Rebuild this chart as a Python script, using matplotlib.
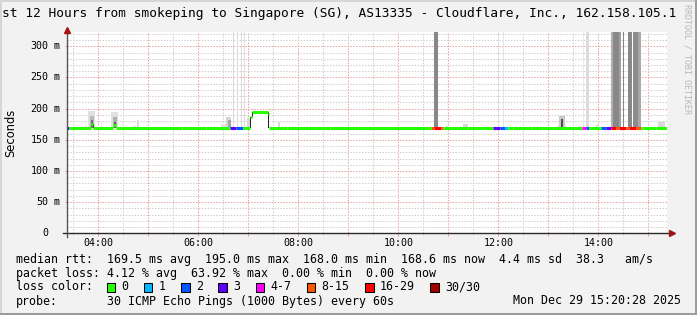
import numpy as np
import matplotlib
matplotlib.use("Agg")
import matplotlib.pyplot as plt
from matplotlib.patches import Rectangle
from matplotlib.lines import Line2D
from matplotlib.ticker import MultipleLocator

# ---------------- data ----------------
title = "st 12 Hours from smokeping to Singapore (SG), AS13335 - Cloudflare, Inc., 162.158.105.1"
y_label = "Seconds"
watermark = "RRDTOOL / TOBI OETIKER"

x_tick_hours = [4, 6, 8, 10, 12, 14]
x_tick_labels = ["04:00", "06:00", "08:00", "10:00", "12:00", "14:00"]
y_tick_values = [0, 50, 100, 150, 200, 250, 300]
y_tick_numbers = ["0", "50", "100", "150", "200", "250", "300"]
y_tick_units = ["", "m", "m", "m", "m", "m", "m"]
t_start, t_end = 3.368, 15.368      # hours of day
y_max = 322.5                        # ms

# median rtt segments (hours), value in ms, loss class index
seg_edges = [3.368, 3.41, 3.86, 3.90, 4.30, 4.36, 5.67, 6.15, 6.63, 6.75, 6.89,
             7.04, 7.08, 7.39, 7.41, 7.77, 8.63, 10.65, 10.71, 10.85, 10.90,
             11.39, 11.90, 12.03, 12.13, 12.19, 12.29, 12.65, 13.67, 13.75,
             13.81, 14.05, 14.15, 14.25, 14.35, 14.42, 14.55, 14.62, 14.75,
             14.85, 14.90, 15.15, 15.368]
seg_median = [169, 169, 175, 169, 173, 169, 168.2, 169, 169, 169, 169,
              187, 195, 191, 169, 168.2, 169, 169, 169, 169, 169,
              168.2, 169, 169, 169, 169, 168.2, 169, 169, 169,
              169, 169, 169, 169, 169, 169, 169, 169, 169,
              169, 168.2, 169]
seg_loss = [3, 0, 0, 0, 0, 0, 0, 0, 3, 2, 0,
            0, 0, 0, 0, 0, 0, 5, 6, 5, 0,
            0, 3, 2, 1, 0, 0, 0, 4, 2,
            0, 2, 3, 6, 5, 6, 5, 6, 5,
            0, 0, 0]

# smoke (ping spread) blocks
smoke_t0 = [3.72, 3.80, 3.83, 3.86, 3.90, 4.05, 4.26, 4.29, 4.31, 4.70, 4.78,
            6.45, 6.55, 6.60, 6.69, 6.78, 6.845, 6.91, 6.98, 7.03, 7.025, 7.07,
            7.39, 7.60, 9.76, 10.71, 10.95, 11.29, 11.99, 12.09, 13.19, 13.22,
            13.25, 13.69, 13.75, 13.95, 14.25, 14.30, 14.41, 14.49, 14.59,
            14.69, 14.80, 15.19]
smoke_t1 = [3.78, 3.93, 3.91, 3.90, 3.92, 4.08, 4.39, 4.37, 4.35, 4.76, 4.81,
            6.65, 6.65, 6.65, 6.71, 6.80, 6.865, 6.93, 7.03, 7.41, 7.045, 7.09,
            7.41, 7.63, 9.79, 10.80, 10.99, 11.39, 12.02, 12.11, 13.36, 13.33,
            13.29, 13.71, 13.81, 13.99, 14.30, 14.41, 14.45, 14.51, 14.67,
            14.80, 14.85, 15.34]
smoke_lo = [169, 169, 169, 169, 169, 169, 169, 169, 169, 169, 169,
            169, 169, 169, 169, 169, 169, 169, 169, 169, 169, 187,
            169, 169, 169, 169, 169, 169, 169, 169, 169, 169,
            169, 169, 169, 169, 169, 169, 169, 169, 169,
            169, 169, 169]
smoke_hi = [172, 196, 189, 181, 175, 175, 194, 186, 179, 172, 182,
            176, 187, 181, 400, 400, 400, 400, 185, 195, 187, 195,
            195, 178, 171, 400, 172, 175, 400, 400, 174, 188,
            183, 400, 400, 174, 400, 400, 400, 400, 400,
            400, 400, 179]
smoke_shade = ["#e4e4e4", "#e0e0e0", "#b8b8b8", "#707070", "#303030", "#e4e4e4",
               "#e0e0e0", "#b0b0b0", "#606060", "#e4e4e4", "#d8d8d8",
               "#e4e4e4", "#d4d4d4", "#a8a8a8", "#dcdcdc", "#dcdcdc", "#dcdcdc",
               "#dcdcdc", "#d8d8d8", "#ffffff", "#202020", "#202020",
               "#202020", "#d8d8d8", "#e4e4e4", "#888888", "#e0e0e0", "#d8d8d8",
               "#e0e0e0", "#e4e4e4", "#e4e4e4", "#c8c8c8",
               "#505050", "#e8e8e8", "#dcdcdc", "#e0e0e0", "#b0b0b0", "#888888",
               "#a0a0a0", "#888888", "#888888",
               "#8c8c8c", "#a8a8a8", "#d8d8d8"]

loss_labels = ["0", "1", "2", "3", "4-7", "8-15", "16-29", "30/30"]
loss_colors = ["#26ff00", "#00b8ff", "#0059ff", "#5e00ff", "#ff00ff",
               "#ff5500", "#ff0000", "#a10000"]

legend_row1 = "median rtt:  169.5 ms avg  195.0 ms max  168.0 ms min  168.6 ms now  4.4 ms sd  38.3   am/s"
legend_row2 = "packet loss: 4.12 % avg  63.92 % max  0.00 % min  0.00 % now"
loss_row_label = "loss color:"
probe_label = "probe:"
probe_text = "30 ICMP Echo Pings (1000 Bytes) every 60s"
timestamp = "Mon Dec 29 15:20:28 2025"

# ---------------- drawing ----------------
W, H, DPI = 697, 315, 100
MONO = "DejaVu Sans Mono"
plt.rcParams["font.family"] = [MONO]

fig = plt.figure(figsize=(W / DPI, H / DPI), dpi=DPI, facecolor="#f2f2f2")


def fx(x):
    return x / W


def fy(y):
    return 1 - y / H


# frame shading
fig.add_artist(Rectangle((0, fy(2)), 1, 2 / H, transform=fig.transFigure, color="#d6d6d6", lw=0))
fig.add_artist(Rectangle((0, 0), 2 / W, 1, transform=fig.transFigure, color="#d6d6d6", lw=0))
fig.add_artist(Rectangle((0, 0), 1, 2 / H, transform=fig.transFigure, color="#9c9c9c", lw=0))
fig.add_artist(Rectangle((fx(695), 0), 2 / W, 1, transform=fig.transFigure, color="#9c9c9c", lw=0))

ax_l, ax_r, ax_t, ax_b = 66.7, 666.7, 32.3, 233.3
ax = fig.add_axes([fx(ax_l), fy(ax_b), (ax_r - ax_l) / W, (ax_b - ax_t) / H])
ax.set_facecolor("white")
ax.set_xlim(t_start, t_end)
ax.set_ylim(0, y_max)
for s in ax.spines.values():
    s.set_visible(False)
ax.set_axisbelow(True)

# ticks / grid
hours = np.arange(np.ceil(t_start), t_end, 1.0)
ax.set_xticks(hours)
ax.set_xticklabels([x_tick_labels[x_tick_hours.index(int(h))] if int(h) in x_tick_hours else ""
                    for h in hours])
ax.xaxis.set_minor_locator(MultipleLocator(0.5))
ax.set_yticks(y_tick_values)
ax.yaxis.set_minor_locator(MultipleLocator(10))

major_c, minor_c = "#eba3a3", "#d0d0d0"
ax.grid(which="major", color=major_c, linestyle=(0, (1.4, 1.4)), linewidth=0.75)
ax.grid(which="minor", color=minor_c, linestyle=(0, (1.4, 1.4)), linewidth=0.75)
ax.tick_params(axis="x", which="major", length=2.3, width=0.75, color=major_c,
               labelsize=7.2, pad=1.2, labelcolor="black")
ax.tick_params(axis="x", which="minor", length=1.6, width=0.75, color=minor_c)
ax.tick_params(axis="y", which="major", length=1.6, width=0.75, color=major_c, labelleft=False)
ax.tick_params(axis="y", which="minor", length=0)

ytr = ax.get_yaxis_transform()
for v, num, unit in zip(y_tick_values, y_tick_numbers, y_tick_units):
    ax.text((48.3 - ax_l) / 600, v, num, transform=ytr, ha="right", va="center", fontsize=7.2)
    if unit:
        ax.text((54.0 - ax_l) / 600, v, unit, transform=ytr, ha="left", va="center", fontsize=7.2)

# smoke
ax.bar(smoke_t0, np.array(smoke_hi) - np.array(smoke_lo),
       width=np.array(smoke_t1) - np.array(smoke_t0), bottom=smoke_lo,
       align="edge", color=smoke_shade, linewidth=0, zorder=1)

# median line coloured by loss
ax.hlines(seg_median, seg_edges[:-1], seg_edges[1:],
          colors=[loss_colors[i] for i in seg_loss], linewidth=2.2,
          capstyle="butt", zorder=3)

# axes lines with arrows
axis_c = "#2a2a2a"
ax.add_line(Line2D([-4 / 600, 1 + 4 / 600], [0, 0], transform=ax.transAxes,
                   color=axis_c, lw=1.0, clip_on=False, zorder=5))
ax.add_line(Line2D([0, 0], [-3.5 / 201, 1 + 1.5 / 201], transform=ax.transAxes,
                   color="#555555", lw=1.0, clip_on=False, zorder=5))
ax.plot([1 + 5.5 / 600], [0], marker=">", ms=4.2, color="#a01515", mec="#a01515",
        transform=ax.transAxes, clip_on=False, zorder=6)
ax.plot([0], [1 + 2.5 / 201], marker="^", ms=4.2, color="#a01515", mec="#a01515",
        transform=ax.transAxes, clip_on=False, zorder=6)

# titles and labels
fig.text(fx(2), fy(13), title, ha="left", va="center", fontsize=9.3, color="black")
fig.text(fx(10.5), fy(133), y_label, rotation=90, ha="center", va="center",
         fontsize=8.3, family="DejaVu Sans")
fig.text(fx(687.5), fy(4), watermark, rotation=270, ha="center", va="top",
         fontsize=6.0, color="#b8b8b8")

# legend
CW = 7.02
lx = 16
fs = 8.4
fig.text(fx(lx), fy(259), legend_row1, ha="left", va="center", fontsize=fs)
fig.text(fx(lx), fy(273), legend_row2, ha="left", va="center", fontsize=fs)
fig.text(fx(lx), fy(287), loss_row_label, ha="left", va="center", fontsize=fs)
sx = lx + 13 * CW - 0.5
for lab, col in zip(loss_labels, loss_colors):
    fig.add_artist(Rectangle((fx(sx), fy(291.5)), 8.5 / W, 9 / H, transform=fig.transFigure,
                             facecolor=col, edgecolor="black", lw=0.75))
    fig.text(fx(sx + 14.5), fy(287), lab, ha="left", va="center", fontsize=fs)
    sx += 30.2 + CW * len(lab)
fig.text(fx(lx), fy(301), probe_label, ha="left", va="center", fontsize=fs)
fig.text(fx(lx + 13 * CW), fy(301), probe_text, ha="left", va="center", fontsize=fs)
fig.text(fx(681), fy(301), timestamp, ha="right", va="center", fontsize=fs)

fig.savefig("out.png", dpi=DPI, facecolor=fig.get_facecolor())
